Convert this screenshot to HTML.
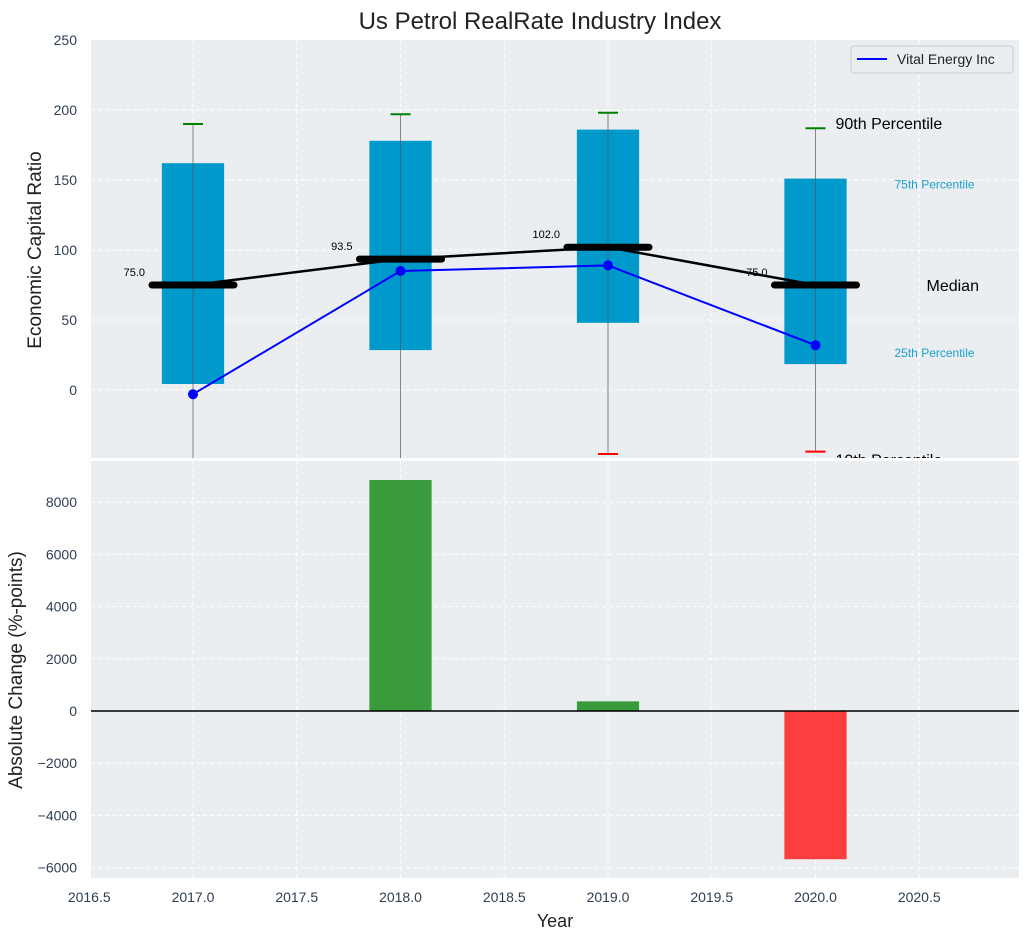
<!DOCTYPE html>
<html><head><meta charset="utf-8">
<style>
html,body{margin:0;padding:0;background:#fff;}
svg{display:block;font-family:"Liberation Sans",sans-serif;}
</style></head>
<body>
<svg id="chart" width="1029" height="940" viewBox="0 0 1029 940">
<defs><clipPath id="topclip"><rect x="0" y="0" width="1029" height="458"/></clipPath></defs>
<text x="540" y="29" text-anchor="middle" font-size="24" fill="#222">Us Petrol RealRate Industry Index</text>
<rect x="91" y="40" width="928" height="418" fill="#eaeef0"/>
<rect x="91" y="461" width="928" height="417" fill="#eaeef0"/>
<g id="topg" clip-path="url(#topclip)"></g>
<g id="botg"></g>
<text transform="translate(41,250) rotate(-90)" text-anchor="middle" font-size="19" fill="#222">Economic Capital Ratio</text>
<text transform="translate(22,670) rotate(-90)" text-anchor="middle" font-size="19" fill="#222">Absolute Change (%-points)</text>
<text x="555" y="927" text-anchor="middle" font-size="18" fill="#222">Year</text>
<g>
<rect x="851" y="46" width="162" height="27" rx="3" fill="#eaeef0" stroke="#ccc"/>
<line x1="857" y1="59" x2="887" y2="59" stroke="#0000ff" stroke-width="2"/>
<text x="897" y="64" font-size="14" fill="#222">Vital Energy Inc</text>
</g>
</svg>
<script>
const years=[2017,2018,2019,2020];
const p10=[-60,-60,-45.7,-44];
const p25=[4.3,28.5,48,18.5];
const median=[75,93.5,102,75];
const p75=[162,178,186,151];
const p90=[190,197,198,187];
const company=[-3,85,89,32];
const changeYears=[2018,2019,2020];
const changes=[8850,370,-5680];
const xTicks=[2016.5,2017,2017.5,2018,2018.5,2019,2019.5,2020,2020.5];
const topTicks=[0,50,100,150,200,250];
const botTicks=[-6000,-4000,-2000,0,2000,4000,6000,8000];

(function(){
const NS="http://www.w3.org/2000/svg";
const X=v=>193+(v-2017)*207.5;
const YT=v=>390-v*1.4;
const YB=v=>711-v*0.0261;
function mk(p,tag,a){const e=document.createElementNS(NS,tag);for(const k in a)e.setAttribute(k,a[k]);p.appendChild(e);return e;}
const gTop=document.getElementById('topg'),gBot=document.getElementById('botg');
const svg=document.getElementById('chart');
xTicks.forEach(t=>{
 const g1=mk(gTop,'line',{x1:X(t),x2:X(t),y1:40,y2:458,stroke:'#fff','stroke-dasharray':'4,3'});
 
 
 const g2=mk(gBot,'line',{x1:X(t),x2:X(t),y1:461,y2:878,stroke:'#fff','stroke-dasharray':'4,3'});
 
 
 const tl=mk(gBot,'text',{x:X(t),y:902,'text-anchor':'middle','font-size':14,fill:'#2d3e50'});tl.textContent=t.toFixed(1);
 
 
});
topTicks.forEach(t=>{
 if(t<250){const g=mk(gTop,'line',{x1:91,x2:1019,y1:YT(t),y2:YT(t),stroke:'#fff','stroke-dasharray':'4,3'});
 
 }
 const tl=mk(svg,'text',{x:77,y:YT(t)+5,'text-anchor':'end','font-size':14,fill:'#2d3e50'});tl.textContent=t;
 
 
});
botTicks.forEach(t=>{
 const g=mk(gBot,'line',{x1:91,x2:1019,y1:YB(t),y2:YB(t),stroke:'#fff','stroke-dasharray':'4,3'});
 
 
 const tl=mk(gBot,'text',{x:77,y:YB(t)+5,'text-anchor':'end','font-size':14,fill:'#2d3e50'});tl.textContent=t<0?'\u2212'+(-t):t;
 
 
});
years.forEach((y,i)=>{
 const b=mk(gTop,'rect',{x:X(y-0.15),y:YT(p75[i]),width:X(y+0.15)-X(y-0.15),height:YT(p25[i])-YT(p75[i]),fill:'#0099cc'});
 
 
 const w=mk(gTop,'line',{x1:X(y),x2:X(y),y1:YT(p90[i]),y2:YT(p10[i]),stroke:'#555','stroke-width':1,opacity:0.7});
 
 
 const c=mk(gTop,'line',{x1:X(y)-10,x2:X(y)+10,y1:YT(p90[i]),y2:YT(p90[i]),stroke:'green','stroke-width':2});
 
 
 const c2=mk(gTop,'line',{x1:X(y)-10,x2:X(y)+10,y1:YT(p10[i]),y2:YT(p10[i]),stroke:'red','stroke-width':2});
 
 
});
const mp=mk(gTop,'polyline',{points:years.map((y,i)=>X(y)+','+YT(median[i])).join(' '),fill:'none',stroke:'#000','stroke-width':2.5});


years.forEach((y,i)=>{
 const m=mk(gTop,'line',{x1:X(y)-41,x2:X(y)+41,y1:YT(median[i]),y2:YT(median[i]),stroke:'#000','stroke-width':7,'stroke-linecap':'round'});
 
 
 const t=mk(gTop,'text',{x:X(y)-48,y:YT(median[i])-9,'text-anchor':'end','font-size':11,fill:'#000'});t.textContent=median[i].toFixed(1);
 
 
});
const cl=mk(gTop,'polyline',{points:years.map((y,i)=>X(y)+','+YT(company[i])).join(' '),fill:'none',stroke:'#0000ff','stroke-width':2});


years.forEach((y,i)=>{const d=mk(gTop,'circle',{cx:X(y),cy:YT(company[i]),r:5,fill:'#0000ff'});
 
 });
const li=years.length-1,lx=X(years[li]);
[[p90[li],'90th Percentile',20,16,'#000'],[p75[li],'75th Percentile',79,12,'#1a9fd0'],[median[li],'Median',111,16,'#000'],[p25[li],'25th Percentile',79,12,'#1a9fd0'],[p10[li],'10th Percentile',20,16,'#000']].forEach((a,k)=>{
 const yy=[YT(a[0])+1,YT(a[0])+10,YT(a[0])+6,YT(a[0])-7,YT(a[0])+14][k];
 const t=mk(gTop,'text',{x:lx+a[2],y:yy,'font-size':a[3],fill:a[4]});t.textContent=a[1];
 
 
});
changeYears.forEach((y,i)=>{
 const v=changes[i];
 const r=mk(gBot,'rect',{x:X(y-0.15),y:Math.min(YB(v),YB(0)),width:X(y+0.15)-X(y-0.15),height:Math.abs(YB(v)-YB(0)),fill:v>=0?'#3a9b3c':'#fd3e3e'});
 
 
});
const z=mk(gBot,'line',{x1:91,x2:1019,y1:YB(0),y2:YB(0),stroke:'#000','stroke-width':1.5});


})();
</script>
</body></html>
